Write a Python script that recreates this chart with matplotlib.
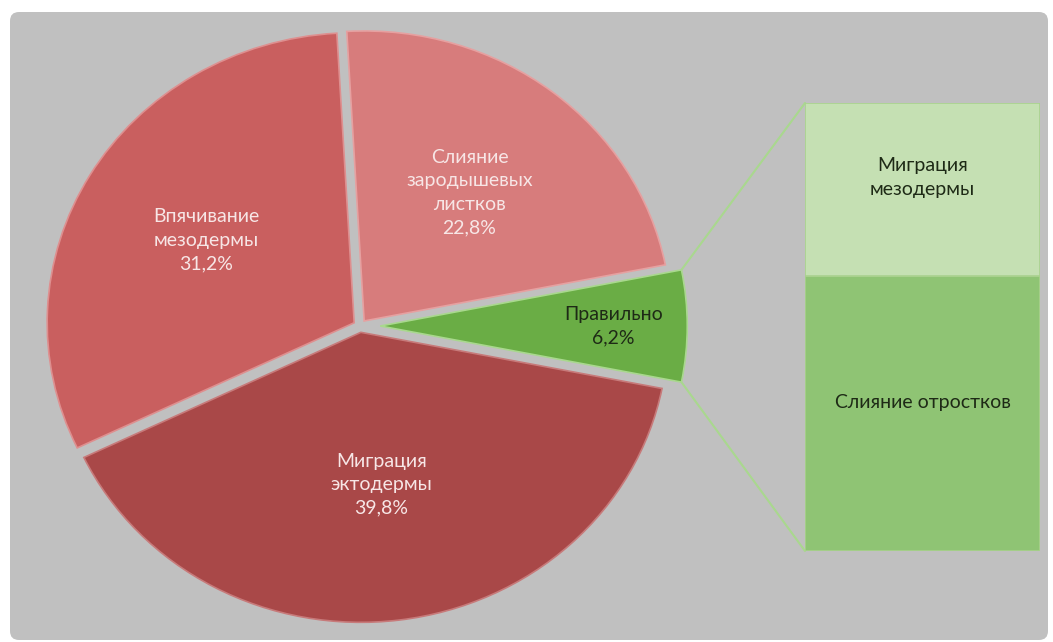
import numpy as np
import matplotlib
matplotlib.use("Agg")
import matplotlib.pyplot as plt
from matplotlib.patches import FancyBboxPatch, ConnectionPatch
from matplotlib.transforms import IdentityTransform

plt.rcParams["font.family"] = ["Lato", "DejaVu Sans"]

# pie data (counter-clockwise, starting with the exploded slice)
pie_labels = ["Правильно", "Слияние\nзародышевых\nлистков", "Впячивание\nмезодермы", "Миграция\nэктодермы"]
pie_values = [6.2, 22.8, 31.2, 39.8]
pie_colors = ["#6aad45", "#d77c7c", "#c95f5f", "#a94848"]
pie_edges = ["#a9d88e", "#e6a0a0", "#de8f8f", "#c77a7a"]
pie_explode = [0.066, 0.022, 0.022, 0.022]
label_dist = [0.76, 0.56, 0.56, 0.53]

# breakdown of "Правильно" (bottom to top)
bar_labels = ["Слияние отростков", "Миграция\nмезодермы"]
bar_values = [3.8, 2.4]
bar_colors = ["#8fc474", "#c5e0b3"]
bar_text_pos = [0.54, 0.57]

W, H = 1053, 642
fig = plt.figure(figsize=(W / 100, H / 100), dpi=100)
fig.patch.set_facecolor("white")

# gray rounded panel behind everything
panel = FancyBboxPatch((10, 2), 1038, 628, boxstyle="round,pad=0,rounding_size=9",
                       transform=IdentityTransform(), facecolor="#c0c0c0",
                       edgecolor="none", zorder=-5)
fig.add_artist(panel)

# pie axes, slightly wider than tall like the reference
cx, cy, rx, ry = 360, 326, 307, 290
ax = fig.add_axes([0, 0, 1, 1])
start = -pie_values[0] / 100 * 360 / 2
wedges, _ = ax.pie(pie_values, colors=pie_colors, explode=pie_explode,
                   startangle=start, counterclock=True, radius=1, center=(0, 0),
                   wedgeprops=dict(linewidth=1.2))
for w, ec in zip(wedges, pie_edges):
    w.set_edgecolor(ec)
ax.set_aspect("auto")
ax.set_xlim(-cx / rx, (W - cx) / rx)
ax.set_ylim(-(H - cy) / ry, cy / ry)
ax.axis("off")

for i, w in enumerate(wedges):
    t = np.radians((w.theta1 + w.theta2) / 2)
    x0, y0 = w.center
    txt = pie_labels[i] + "\n" + f"{pie_values[i]:.1f}%".replace(".", ",")
    col = "#1e2a16" if i == 0 else "#f7e6e6"
    ax.text(x0 + label_dist[i] * np.cos(t), y0 + label_dist[i] * np.sin(t), txt,
            ha="center", va="center", fontsize=14, color=col, linespacing=1.45)

# stacked bar
bx = fig.add_axes([805 / W, (H - 551) / H, 235 / W, 448 / H])
bottom = 0
for v, c, lab, p in zip(bar_values, bar_colors, bar_labels, bar_text_pos):
    bx.bar(0.5, v, bottom=bottom, width=1, color=c, edgecolor="#a9d18e", linewidth=1.2)
    bx.text(0.5, bottom + v * p, lab, ha="center", va="center", fontsize=14,
            color="#1e2a16", linespacing=1.45)
    bottom += v
bx.set_xlim(0, 1)
bx.set_ylim(0, sum(bar_values))
bx.axis("off")

# connector lines from the green slice to the bar
g = wedges[0]
gx, gy = g.center
for ang, yb in [(g.theta2, sum(bar_values)), (g.theta1, 0)]:
    a = np.radians(ang)
    con = ConnectionPatch(xyA=(gx + np.cos(a), gy + np.sin(a)), coordsA=ax.transData,
                          xyB=(0, yb), coordsB=bx.transData,
                          color="#a9d88e", linewidth=1.5, zorder=-1)
    fig.add_artist(con)

fig.savefig("out.png", dpi=100, facecolor="white")
